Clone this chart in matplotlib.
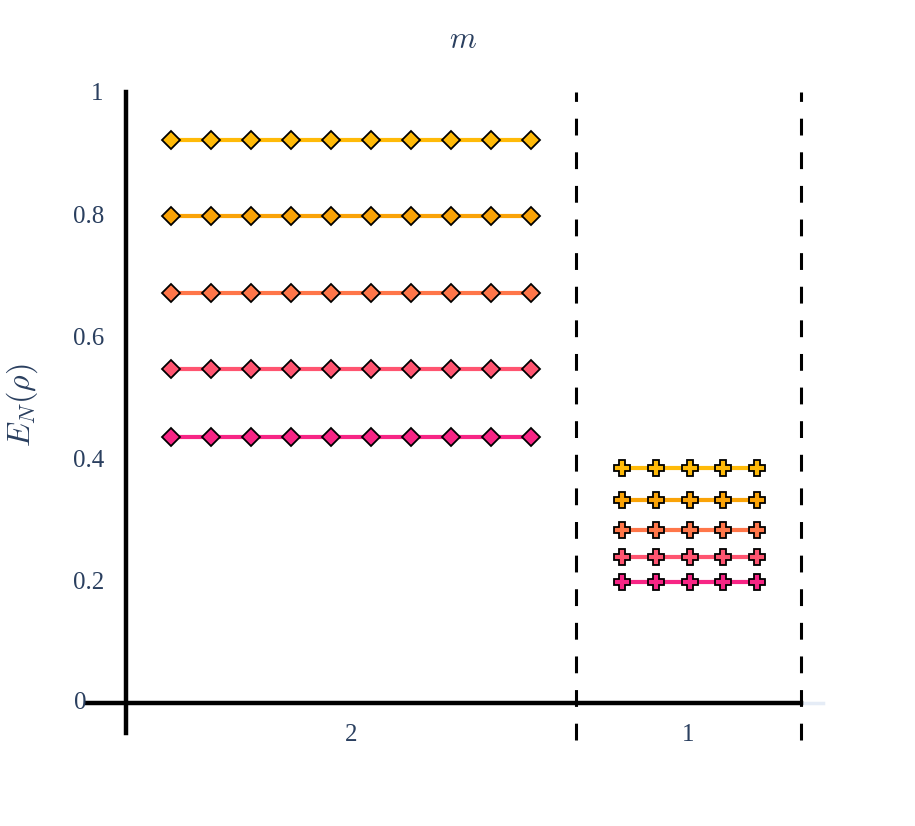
import numpy as np
import matplotlib
matplotlib.use('Agg')
import matplotlib.pyplot as plt

# data
colors = ['#FFBA08', '#FAA307', '#FF7649', '#FF5470', '#F72585']
m2_values = [0.921, 0.797, 0.671, 0.547, 0.435]   # m = 2, 10 points each
m1_values = [0.385, 0.332, 0.283, 0.239, 0.198]   # m = 1, 5 points each
n2, n1 = 10, 5
group_labels = ['2', '1']
yticks = [0.2, 0.4, 0.6, 0.8, 1]
ytick_labels = ['0.2', '0.4', '0.6', '0.8', '1']

plt.rcParams['mathtext.fontset'] = 'cm'
plt.rcParams['font.family'] = ['Liberation Serif', 'DejaVu Serif']
text_col = '#2a3f5f'

W, H = 915, 826
fig = plt.figure(figsize=(W / 100, H / 100), dpi=100)
# axis box in pixels: x 126..801, y (value 1) 92 .. (value 0) 703
ax = fig.add_axes([126 / W, 1 - 703 / H, (801 - 126) / W, (703 - 92) / H])
ax.set_xlim(0, 675)
ax.set_ylim(0, 1)

# x positions (pixel units inside the axes)
x2 = 45 + 40 * np.arange(n2)
x1 = 450 + 46 + 33.75 * np.arange(n1)

for c, v in zip(colors, m2_values):
    ax.plot(x2, np.full(n2, v), color=c, lw=3, marker='D', ms=9,
            mfc=c, mec='black', mew=1.3, zorder=3)
for c, v in zip(colors, m1_values):
    ax.plot(x1, np.full(n1, v), color=c, lw=3, marker='P', ms=12,
            mfc=c, mec='black', mew=1.3, zorder=3)

for s in ax.spines.values():
    s.set_visible(False)

# zero line + axis lines
ax.plot([675, 697], [0, 0], color='#E5ECF6', lw=2.5, clip_on=False, zorder=1)
ax.plot([-39, 675], [0, 0], color='black', lw=3.2, clip_on=False, zorder=2)
ax.plot([0, 0], [-30 / 611, 1], color='black', lw=3.2, clip_on=False, zorder=2)
for xd in [450, 675]:
    ax.plot([xd, xd], [-37 / 611, 1], color='black', lw=2.2,
            ls=(0, (5.5, 5.5)), clip_on=False, zorder=2)

ax.set_xticks([])
ax.set_yticks(yticks)
ax.set_yticklabels(ytick_labels)
ax.tick_params(axis='y', length=0, pad=16, labelsize=18, labelcolor=text_col)
ax.text(-40, 0, '0', ha='right', va='center', fontsize=18, color=text_col)

ax.text(225, -32 / 611, group_labels[0], ha='center', va='center',
        fontsize=18, color=text_col)
ax.text(562, -32 / 611, group_labels[1], ha='center', va='center',
        fontsize=18, color=text_col)

fig.text(463 / W, 1 - 40 / H, r'$m$', ha='center', va='center',
         fontsize=22, color=text_col)
fig.text(22 / W, 1 - 405 / H, r'$E_N(\rho)$', ha='center', va='center',
         rotation=90, fontsize=23, color=text_col)

fig.savefig('out.png', dpi=100, facecolor='white')
